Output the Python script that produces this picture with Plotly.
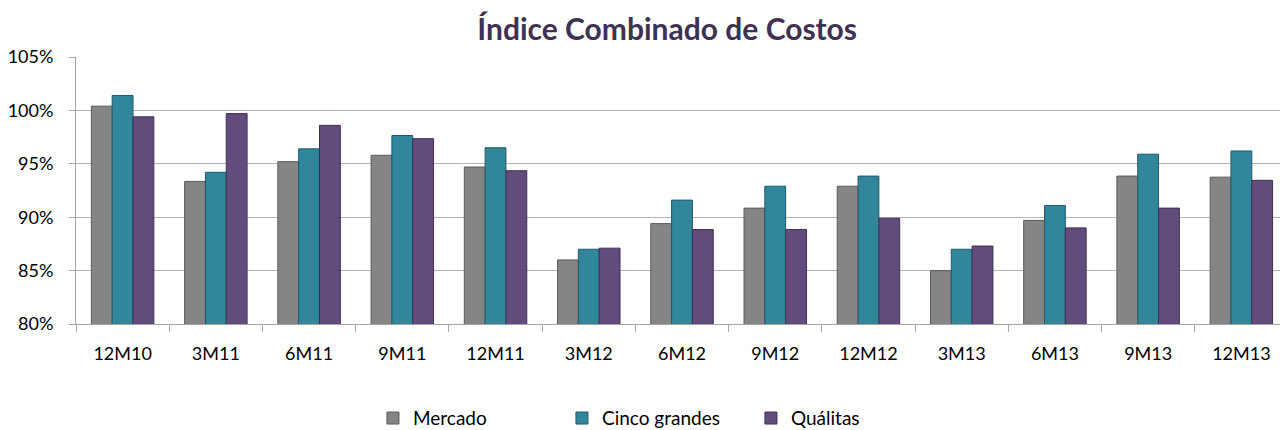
import plotly.graph_objects as go

categories = ["12M10", "3M11", "6M11", "9M11", "12M11", "3M12", "6M12",
              "9M12", "12M12", "3M13", "6M13", "9M13", "12M13"]
mercado = [100.4, 93.35, 95.2, 95.8, 94.7, 86.0, 89.4, 90.85, 92.9, 85.0, 89.7, 93.85, 93.75]
cinco = [101.4, 94.2, 96.4, 97.65, 96.5, 87.0, 91.6, 92.9, 93.85, 87.0, 91.1, 95.9, 96.2]
qualitas = [99.4, 99.7, 98.6, 97.35, 94.35, 87.1, 88.85, 88.85, 89.9, 87.3, 89.0, 90.85, 93.45]

series = [
    ("Mercado", mercado, "#858585", "#5a5a5a"),
    ("Cinco grandes", cinco, "#31869B", "#1f5a68"),
    ("Quálitas", qualitas, "#624C7E", "#3e2f52"),
]

fig = go.Figure()
for name, vals, col, line in series:
    fig.add_trace(go.Bar(
        name=name, x=categories, y=[v / 100 for v in vals],
        marker=dict(color=col, line=dict(color=line, width=1)),
    ))

FONT = "Lato"
fig.update_layout(
    width=1280, height=422,
    margin=dict(l=68, r=0, t=49, b=106),
    paper_bgcolor="white", plot_bgcolor="white",
    barmode="group", bargap=0.33, bargroupgap=0.0,
    title=dict(text="<b>Índice Combinado de Costos</b>", x=0.515, xanchor="center",
               y=0.948, yanchor="middle",
               font=dict(family=FONT, size=30, color="#3F3151")),
    font=dict(family=FONT, size=18, color="#000000"),
    legend=dict(orientation="h", x=0.245, xanchor="left",
                yref="container", y=0.028, yanchor="middle",
                font=dict(size=19), entrywidth=144, itemwidth=30, traceorder="normal"),
    xaxis=dict(showline=True, linecolor="#a6a6a6", linewidth=1, ticks="outside",
               tickson="boundaries", ticklen=7, tickcolor="#a6a6a6",
               ticklabelstandoff=13, tickfont=dict(size=18), automargin=False),
    yaxis=dict(range=[0.80, 1.05], tickformat=".0%", dtick=0.05,
               showgrid=True, gridcolor="#b4b4b4", gridwidth=1,
               showline=True, linecolor="#a6a6a6", linewidth=1,
               ticks="outside", ticklen=6, tickcolor="#a6a6a6",
               ticklabelstandoff=12, tickfont=dict(size=18), zeroline=False,
               automargin=False),
)

fig.write_html("out.html")
